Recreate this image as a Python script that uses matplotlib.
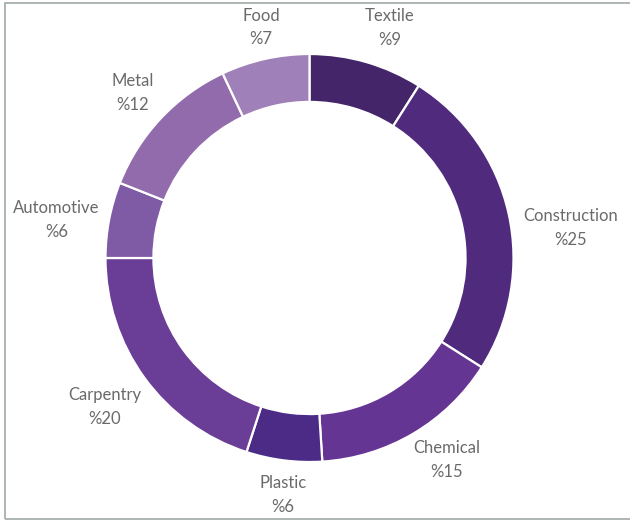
import matplotlib.pyplot as plt
import matplotlib.patches as mpatches
import numpy as np

# sector shares (%), clockwise from 12 o'clock
sectors = ['Textile', 'Construction', 'Chemical', 'Plastic',
           'Carpentry', 'Automotive', 'Metal', 'Food']
shares = [9, 25, 15, 6, 20, 6, 12, 7]
colors = ['#45256a', '#4f2a7d', '#653594', '#4c2b87',
          '#6a3d96', '#7f5aa5', '#926bac', '#a080b8']

# per-label radial distance (in units of outer radius) and angle tweak (deg)
labelDist = [1.195, 1.29, 1.196, 1.17, 1.24, 1.255, 1.186, 1.155]
labelShift = [-3, -6, 3.5, 0.8, 0, 2.2, 0.3, -0.7]

W, H = 630, 523
cx, cy, R = 309.5, 258, 204  # pixel centre and outer radius

fig = plt.figure(figsize=(W / 100, H / 100), dpi=100)
ax = fig.add_axes([0, 0, 1, 1])

wedges, _ = ax.pie(shares, colors=colors, startangle=90, counterclock=False,
                   radius=1, wedgeprops=dict(width=0.235, edgecolor='white', linewidth=1.6))

# pie() resets the limits, so fix them afterwards
ax.set_aspect('auto')
ax.set_xlim(-cx / R, (W - cx) / R)
ax.set_ylim(-(H - cy) / R, cy / R)
ax.axis('off')

for w, name, val, d, s in zip(wedges, sectors, shares, labelDist, labelShift):
    mid = np.deg2rad((w.theta1 + w.theta2) / 2 + s)
    ax.text(d * np.cos(mid), d * np.sin(mid), f'{name}\n%{val}',
            ha='center', va='center', fontsize=12, color='#6a6a6a',
            family='Lato', linespacing=1.6)

# thin grey frame around the chart area
frame = mpatches.Rectangle((4.5 / W, 4 / H), 1.2, 1 - 7 / H, transform=fig.transFigure,
                           fill=False, edgecolor='#9ea9a7', linewidth=1.2, clip_on=False)
fig.patches.append(frame)

fig.savefig('out.png', dpi=100)
